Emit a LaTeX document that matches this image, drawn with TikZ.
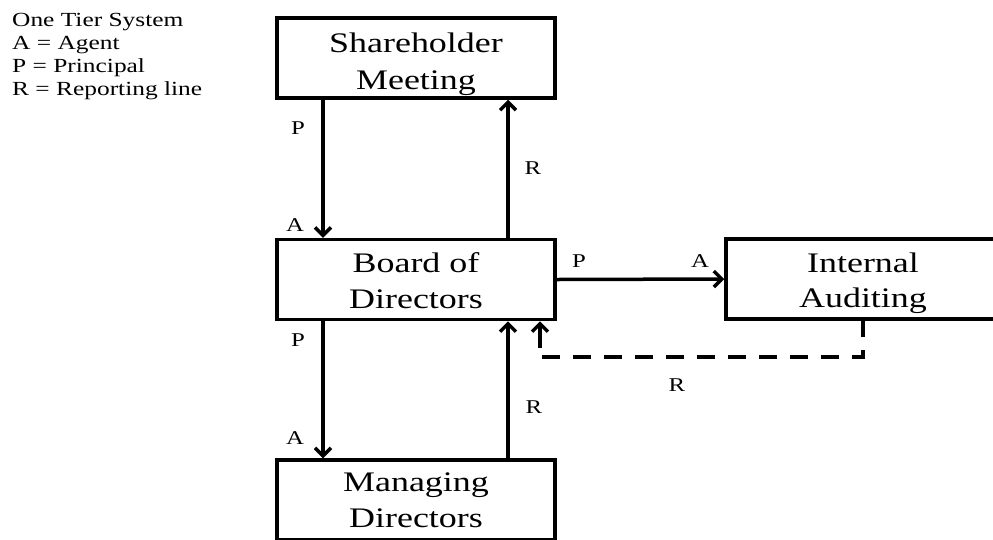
\documentclass[tikz,border=0pt]{standalone}
\usepackage{fontspec}
\setmainfont[FakeStretch=1.27]{Liberation Serif}
\usetikzlibrary{arrows.meta}
\begin{document}
\begin{tikzpicture}[x=1pt,y=-1pt,
  box/.style={draw,line width=3.5pt,minimum height=80pt,inner sep=0pt},
  boxlbl/.style={inner sep=0pt,anchor=base,font=\fontsize{28.3}{37}\selectfont},
  lbl/.style={font=\fontsize{19.5}{21}\selectfont,inner sep=0pt},
  tip/.style={-{Straight Barb[length=8pt,width=16pt,line width=3.5pt]}},
  conn/.style={line width=3.5pt,tip},
  dconn/.style={line width=3.5pt,dash pattern=on 18pt off 13pt,dash phase=2pt}]
\useasboundingbox (0,0) rectangle (993,539);
\begin{scope}
\clip (0,0) rectangle (993,539);
\node[box,minimum width=278pt] (sm) at (416,58) {};
\node[box,minimum width=278pt] (bd) at (416,279.5) {};
\node[box,minimum width=274pt] (ia) at (863,279) {};
\node[box,minimum width=278pt] (md) at (416,500) {};
\end{scope}
\node[boxlbl] (smt1) at ([yshift=6pt]sm.center) {Shareholder};
\node[boxlbl] (smt2) at ([yshift=-31pt]sm.center) {Meeting};
\node[boxlbl] (bdt1) at ([yshift=7.5pt]bd.center) {Board of};
\node[boxlbl] (bdt2) at ([yshift=-28.5pt]bd.center) {Directors};
\node[boxlbl] (iat1) at ([yshift=7pt]ia.center) {Internal};
\node[boxlbl] (iat2) at ([yshift=-28pt]ia.center) {Auditing};
\node[boxlbl] (mdt1) at ([yshift=9pt]md.center) {Managing};
\node[boxlbl] (mdt2) at ([yshift=-27.5pt]md.center) {Directors};
\node[anchor=north west,align=left,inner sep=0pt,font=\fontsize{20}{23}\selectfont] (legend) at (12,13)
  {One Tier System\\A = Agent\\P = Principal\\R = Reporting line};
% connectors
\draw[conn] ([xshift=-93pt]sm.south) -- ([xshift=-93pt]bd.north);
\draw[conn] ([xshift=92pt]bd.north) -- ([xshift=92pt]sm.south);
\draw[conn] ([xshift=-93pt]bd.south) -- ([xshift=-93pt]md.north);
\draw[conn] ([xshift=92pt]md.north) -- ([xshift=92pt]bd.south);
\draw[conn] (bd.east) -- (ia.west);
\coordinate (dc) at (540,357);
\coordinate (dend) at (540,348);
\draw[dconn] (ia.south) |- (dc) -- (dend);
\draw[conn] (dend) -- ([xshift=124pt]bd.south);
% labels
\node[lbl] (p1) at (298,128) {P};
\node[lbl] (r1) at (533,168) {R};
\node[lbl] (a1) at (295,225) {A};
\node[lbl] (p3) at (579,261) {P};
\node[lbl] (a3) at (700,261) {A};
\node[lbl] (r3) at (677,385) {R};
\node[lbl] (p2) at (298,340) {P};
\node[lbl] (r2) at (534,407) {R};
\node[lbl] (a2) at (295,438) {A};
\end{tikzpicture}
\end{document}
